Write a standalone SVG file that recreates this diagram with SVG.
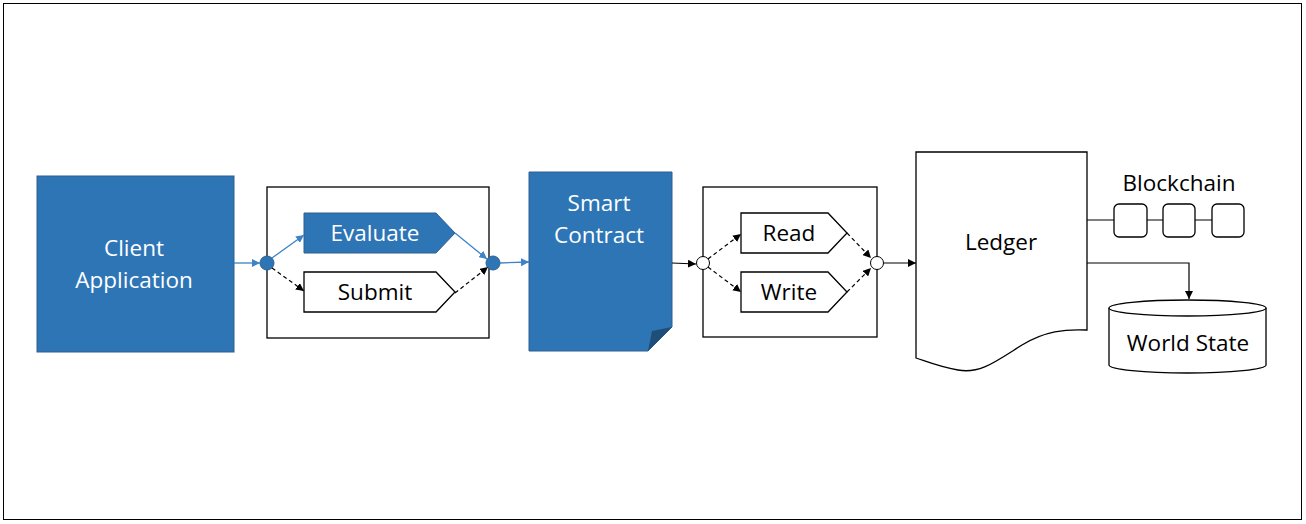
<svg xmlns="http://www.w3.org/2000/svg" width="1306" height="524" viewBox="0 0 1306 524">
<defs>
<style>
.t{font-family:"Open Sans","Liberation Sans",sans-serif;font-size:22.5px;text-anchor:middle}
.w{fill:#fff}
.k{fill:#000}
.box{fill:#fff;stroke:#000;stroke-width:1.3}
.blue{fill:#2E75B6;stroke:#2F5F90;stroke-width:1}
.bl{stroke:#3C83C8;stroke-width:1.3;fill:none}
.dk{stroke:#000;stroke-width:1.2;fill:none}
.ds{stroke-dasharray:4 3}
</style>
<marker id="ab" viewBox="0 0 10 10" refX="10" refY="5" markerWidth="8" markerHeight="8" markerUnits="userSpaceOnUse" orient="auto"><path d="M0,0L10,5L0,10z" fill="#3C83C8"/></marker>
<marker id="ak" viewBox="0 0 10 10" refX="10" refY="5" markerWidth="8" markerHeight="8" markerUnits="userSpaceOnUse" orient="auto"><path d="M0,0L10,5L0,10z" fill="#000"/></marker>
</defs>
<rect x="3.5" y="3.5" width="1298" height="516" fill="#fff" stroke="#000" stroke-width="1"/>

<g id="client">
<rect class="blue" x="37" y="176" width="197" height="176"/>
<text class="t w" x="134" y="256">Client</text>
<text class="t w" x="134" y="288">Application</text>
</g>

<g id="tx-box">
<rect class="box" x="267" y="187" width="222" height="151"/>
</g>
<g id="evaluate">
<path class="blue" d="M304,213H436L455,233L436,253H304Z"/>
<text class="t w" x="375" y="241">Evaluate</text>
</g>
<g id="submit">
<path class="box" d="M304,272H436L455,292L436,312H304Z"/>
<text class="t k" x="375" y="300">Submit</text>
</g>
<g id="split1"><circle cx="267" cy="263" r="7" fill="#2E75B6" stroke="#2F5F90"/></g>
<g id="join1"><circle cx="493" cy="263" r="7" fill="#2E75B6" stroke="#2F5F90"/></g>

<g id="smart-contract">
<path class="blue" d="M529,172H672V327L648,351H529Z"/>
<path d="M672,327L648,351L652,331Z" fill="#1F4E79"/>
<text class="t w" x="599" y="211">Smart</text>
<text class="t w" x="599" y="243">Contract</text>
</g>

<g id="rw-box">
<rect class="box" x="703" y="187" width="174" height="150"/>
</g>
<g id="read">
<path class="box" d="M741,213H828L847,233L828,253H741Z"/>
<text class="t k" x="789" y="241">Read</text>
</g>
<g id="write">
<path class="box" d="M741,272H828L847,292L828,312H741Z"/>
<text class="t k" x="789" y="300">Write</text>
</g>
<g id="split2"><circle cx="703" cy="263" r="6.5" fill="#fff" stroke="#000"/></g>
<g id="join2"><circle cx="877" cy="263" r="6.5" fill="#fff" stroke="#000"/></g>

<g id="ledger">
<path class="box" d="M916,152H1087V330C1065,329 1045,331 1022,345C995,362 980,374 958,370C940,367 928,362 916,358Z"/>
<text class="t k" x="1001" y="250">Ledger</text>
</g>

<g id="blockchain">
<text class="t k" x="1179" y="191">Blockchain</text>
<rect class="box" x="1114" y="204" width="33" height="33" rx="5"/>
<rect class="box" x="1163" y="204" width="32" height="33" rx="5"/>
<rect class="box" x="1212" y="204" width="32" height="33" rx="5"/>
</g>

<g id="world-state">
<path class="box" d="M1109,308V365A78.5,8 0 0 0 1266,365V308"/>
<ellipse class="box" cx="1187.5" cy="308" rx="78.5" ry="8"/>
<text class="t k" x="1188" y="351">World State</text>
</g>

<g id="connectors">
<line class="bl" x1="234" y1="263" x2="260" y2="263" marker-end="url(#ab)"/>
<line class="bl" x1="272" y1="258" x2="304" y2="235" marker-end="url(#ab)"/>
<line class="dk ds" x1="272" y1="268" x2="304" y2="291" marker-end="url(#ak)"/>
<line class="bl" x1="455" y1="233" x2="487" y2="259" marker-end="url(#ab)"/>
<line class="dk ds" x1="455" y1="293" x2="488" y2="267" marker-end="url(#ak)"/>
<line class="bl" x1="500" y1="263" x2="529" y2="262" marker-end="url(#ab)"/>
<line class="dk" x1="672" y1="263" x2="696" y2="264" marker-end="url(#ak)"/>
<line class="dk ds" x1="708" y1="259" x2="741" y2="234" marker-end="url(#ak)"/>
<line class="dk ds" x1="708" y1="267" x2="741" y2="292" marker-end="url(#ak)"/>
<line class="dk ds" x1="847" y1="233" x2="871" y2="258" marker-end="url(#ak)"/>
<line class="dk ds" x1="847" y1="292" x2="871" y2="268" marker-end="url(#ak)"/>
<line class="dk" x1="883.5" y1="263" x2="916" y2="263" marker-end="url(#ak)"/>
<path class="dk" d="M1087,220H1114M1147,220H1163M1195,220H1212"/>
<path class="dk" d="M1087,263H1189V299" marker-end="url(#ak)"/>
</g>
</svg>
